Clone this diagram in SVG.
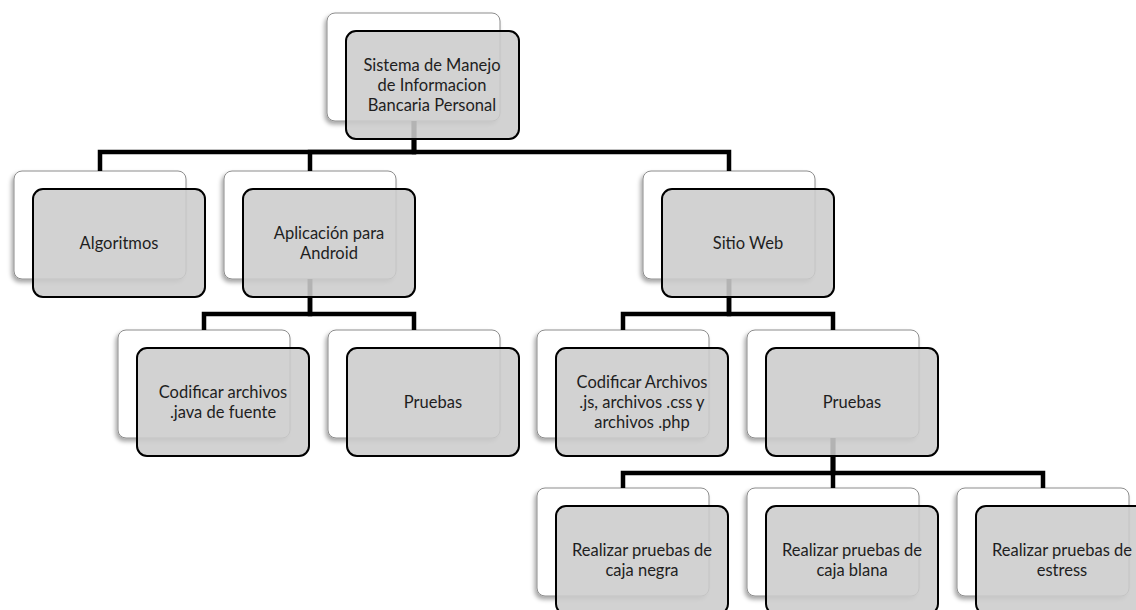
<svg xmlns="http://www.w3.org/2000/svg" width="1136" height="610" viewBox="0 0 1136 610">
  <defs>
    <filter id="soft" x="-10%" y="-10%" width="120%" height="130%">
      <feDropShadow dx="-2" dy="3" stdDeviation="2" flood-color="#000" flood-opacity="0.35"/>
    </filter>
    <style>
      .back { fill: #ffffff; stroke: #8c8c8c; stroke-width: 1; filter: url(#soft); }
      .front { fill: rgb(204,204,204); fill-opacity: 0.88; stroke: #000; stroke-width: 2; }
      .link { fill: none; stroke: #000; stroke-width: 4.5; stroke-linejoin: miter; stroke-linecap: butt; }
      text { font-family: Lato, "Liberation Sans", sans-serif; font-size: 16.5px; fill: #1e1e1e; text-anchor: middle; }
    </style>
  </defs>

  <rect width="1136" height="610" fill="#ffffff"/>

  <!-- back cards (white, shadowed) -->
  <g id="backs">
    <rect class="back" x="327" y="13" width="173" height="108" rx="8"/>
    <rect class="back" x="14" y="171" width="172" height="108" rx="8"/>
    <rect class="back" x="224" y="171" width="172" height="108" rx="8"/>
    <rect class="back" x="643" y="171" width="172" height="108" rx="8"/>
    <rect class="back" x="118" y="330" width="172" height="108" rx="8"/>
    <rect class="back" x="328" y="330" width="172" height="108" rx="8"/>
    <rect class="back" x="537" y="330" width="172" height="108" rx="8"/>
    <rect class="back" x="747" y="330" width="172" height="108" rx="8"/>
    <rect class="back" x="537" y="488" width="172" height="108" rx="8"/>
    <rect class="back" x="747" y="488" width="172" height="108" rx="8"/>
    <rect class="back" x="957" y="488" width="172" height="108" rx="8"/>
  </g>

  <!-- elbow connectors -->
  <g id="connectors">
    <path class="link" d="M414 121 V152 H100 V171"/>
    <path class="link" d="M414 121 V152 H310 V171"/>
    <path class="link" d="M414 121 V152 H729 V171"/>
    <path class="link" d="M310 279 V314 H204 V330"/>
    <path class="link" d="M310 279 V314 H414 V330"/>
    <path class="link" d="M729 279 V314 H623 V330"/>
    <path class="link" d="M729 279 V314 H833 V330"/>
    <path class="link" d="M833 438 V473 H623 V488"/>
    <path class="link" d="M833 438 V473 H833 V488"/>
    <path class="link" d="M833 438 V473 H1043 V488"/>
  </g>

  <g id="root">
    <rect class="front" x="346" y="31" width="173" height="108" rx="10"/>
    <text x="432" y="71">Sistema de Manejo</text>
    <text x="432" y="90.8">de Informacion</text>
    <text x="432" y="110.6">Bancaria Personal</text>
  </g>

  <g id="algoritmos">
    <rect class="front" x="33" y="189" width="172" height="108" rx="10"/>
    <text x="119" y="249">Algoritmos</text>
  </g>

  <g id="android">
    <rect class="front" x="243" y="189" width="172" height="108" rx="10"/>
    <text x="329" y="239">Aplicación para</text>
    <text x="329" y="258.8">Android</text>
  </g>

  <g id="web">
    <rect class="front" x="662" y="189" width="172" height="108" rx="10"/>
    <text x="748" y="249">Sitio Web</text>
  </g>

  <g id="android-code">
    <rect class="front" x="137" y="348" width="172" height="108" rx="10"/>
    <text x="223" y="398">Codificar archivos</text>
    <text x="223" y="417.8">.java de fuente</text>
  </g>

  <g id="android-tests">
    <rect class="front" x="347" y="348" width="172" height="108" rx="10"/>
    <text x="433" y="408">Pruebas</text>
  </g>

  <g id="web-code">
    <rect class="front" x="556" y="348" width="172" height="108" rx="10"/>
    <text x="642" y="388">Codificar Archivos</text>
    <text x="642" y="407.8">.js, archivos .css y</text>
    <text x="642" y="427.6">archivos .php</text>
  </g>

  <g id="web-tests">
    <rect class="front" x="766" y="348" width="172" height="108" rx="10"/>
    <text x="852" y="408">Pruebas</text>
  </g>

  <g id="black-box">
    <rect class="front" x="556" y="506" width="172" height="108" rx="10"/>
    <text x="642" y="556">Realizar pruebas de</text>
    <text x="642" y="575.8">caja negra</text>
  </g>

  <g id="white-box">
    <rect class="front" x="766" y="506" width="172" height="108" rx="10"/>
    <text x="852" y="556">Realizar pruebas de</text>
    <text x="852" y="575.8">caja blana</text>
  </g>

  <g id="stress">
    <rect class="front" x="976" y="506" width="172" height="108" rx="10"/>
    <text x="1062" y="556">Realizar pruebas de</text>
    <text x="1062" y="575.8">estress</text>
  </g>
</svg>
